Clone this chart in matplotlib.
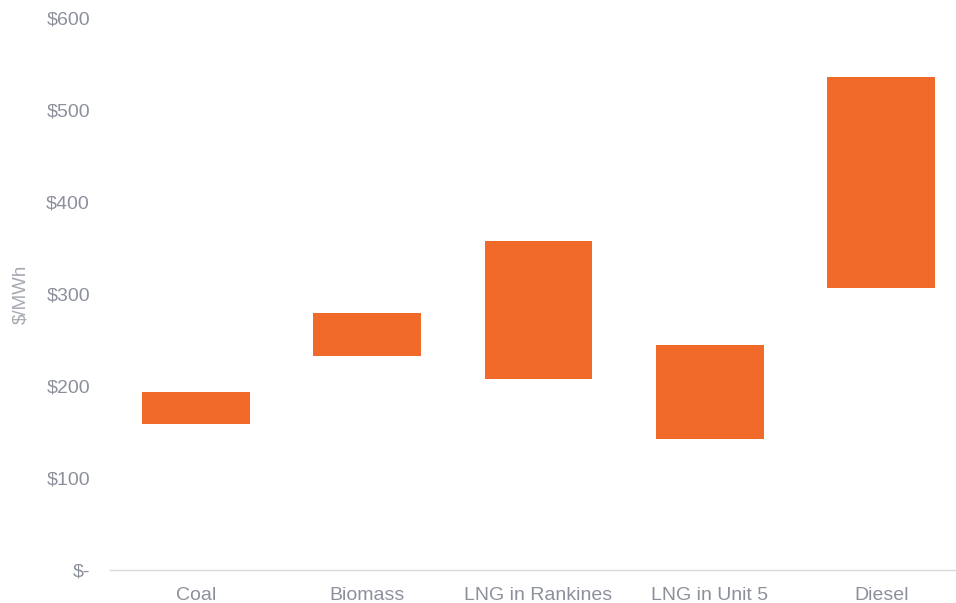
import matplotlib
matplotlib.use("Agg")
import matplotlib.pyplot as plt

# Cost ranges by generation option ($/MWh)
categories = ["Coal", "Biomass", "LNG in Rankines", "LNG in Unit 5", "Diesel"]
low_values = [159, 233, 208, 142, 306]
high_values = [193, 279, 358, 245, 536]
y_ticks = [0, 100, 200, 300, 400, 500, 600]
y_tick_labels = ["$-", "$100", "$200", "$300", "$400", "$500", "$600"]

plt.rcParams["font.family"] = ["Liberation Sans", "DejaVu Sans"]

fig = plt.figure(figsize=(9.56, 6.03), dpi=100)
ax = fig.add_axes([110 / 956, 33 / 603, 857 / 956, 552 / 603])

heights = [h - l for l, h in zip(low_values, high_values)]
ax.bar(range(len(categories)), heights, bottom=low_values, width=0.63,
       color="#F26A2A", edgecolor="none", zorder=3)

ax.set_xlim(-0.5, len(categories) - 0.5)
ax.set_ylim(0, 600)
ax.set_yticks(y_ticks)
ax.set_yticklabels(y_tick_labels)
ax.set_xticks(range(len(categories)))
ax.set_xticklabels(categories)

label_color = "#8C909B"
ax.tick_params(axis="y", length=0, pad=14.5, labelsize=14, labelcolor=label_color)
ax.tick_params(axis="x", length=0, pad=12, labelsize=14, labelcolor=label_color)

for side in ["top", "right", "left"]:
    ax.spines[side].set_visible(False)
ax.spines["bottom"].set_color("#D9D9D9")
ax.spines["bottom"].set_linewidth(1.0)

ax.set_ylabel("$/MWh", fontsize=13.5, color="#A3A7B0", labelpad=12)

fig.savefig("out.png", dpi=100)
